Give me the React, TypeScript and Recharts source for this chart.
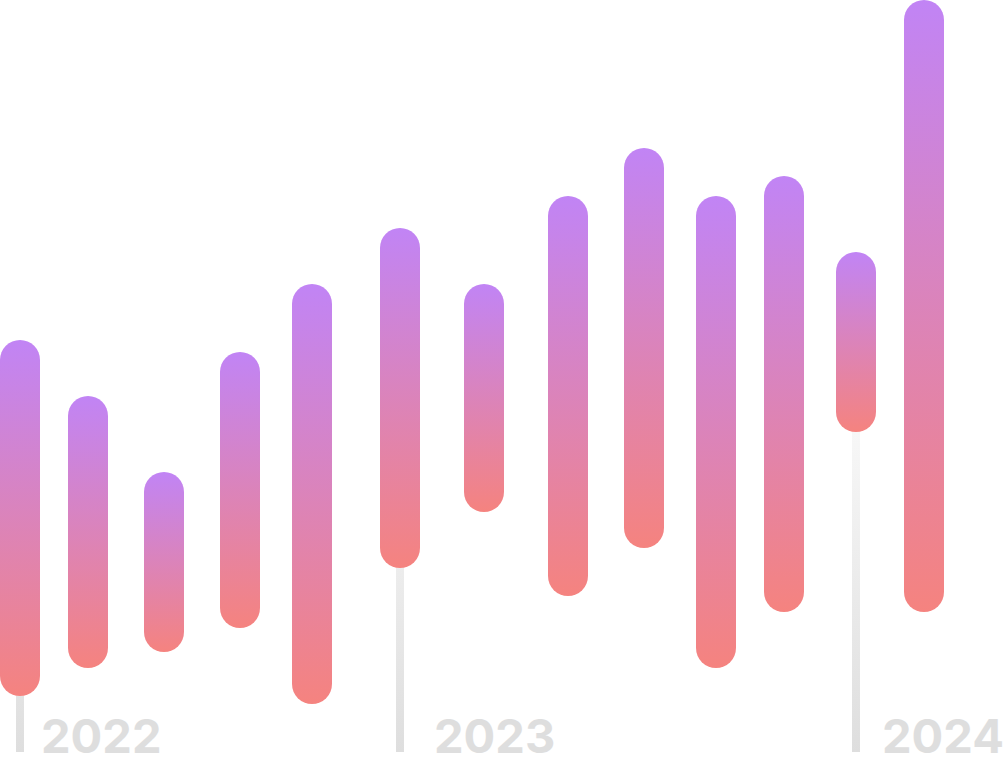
import React from 'react';
import { BarChart, Bar, XAxis, YAxis, ReferenceArea } from 'recharts';

// x position of each bar (week index), and its range [low, high]
const weeks = [5, 22, 41, 60, 78, 100, 121, 142, 161, 179, 196, 214, 231];
const lows = [18, 25, 29, 35, 16, 50, 64, 43, 55, 25, 39, 84, 39];
const highs = [107, 93, 74, 104, 121, 135, 121, 143, 155, 143, 148, 129, 192];

// year markers
const years = ['2022', '2023', '2024'];
const yearWeeks = [5, 100, 214];
const yearBarIndex = [0, 5, 11];
const yearFloor = 4;

const labelGaps = [17, 30, 22];

const data = weeks.map((w, i) => ({ week: w, range: [lows[i], highs[i]] }));

const YearLabel = (props: any) => {
  const { viewBox, text, gap } = props;
  if (!viewBox) return null;
  return (
    <text
      x={viewBox.x + viewBox.width + gap}
      y={viewBox.y + viewBox.height + 1}
      fill="#DEDEDE"
      fontFamily="Inter, 'Liberation Sans', sans-serif"
      fontWeight={700}
      fontSize={47}
      textAnchor="start"
    >
      {text}
    </text>
  );
};

export default function App() {
  return (
    <div style={{ position: 'absolute', left: 0, top: 0, width: 1004, height: 768, background: '#fff' }}>
      <BarChart width={1004} height={768} data={data} margin={{ top: 0, right: 0, bottom: 0, left: 0 }}>
        <defs>
          <linearGradient id="barGrad" x1="0" y1="0" x2="0" y2="1">
            <stop offset="0%" stopColor="#C184F5" />
            <stop offset="100%" stopColor="#F5837F" />
          </linearGradient>
          <linearGradient id="lineGrad" gradientUnits="userSpaceOnUse" x1="0" y1="420" x2="0" y2="752">
            <stop offset="0%" stopColor="#F8F8F8" />
            <stop offset="100%" stopColor="#DEDEDE" />
          </linearGradient>
        </defs>
        <XAxis dataKey="week" type="number" domain={[0, 251]} hide />
        <YAxis type="number" domain={[0, 192]} hide />
        {years.map((y, i) => (
          <ReferenceArea
            key={y}
            x1={yearWeeks[i] - 1}
            x2={yearWeeks[i] + 1}
            y1={yearFloor}
            y2={lows[yearBarIndex[i]]}
            fill="url(#lineGrad)"
            fillOpacity={1}
            stroke="none"
            ifOverflow="visible"
            label={<YearLabel text={y} gap={labelGaps[i]} />}
          />
        ))}
        <Bar dataKey="range" barSize={40} radius={20} fill="url(#barGrad)" isAnimationActive={false} />
      </BarChart>
    </div>
  );
}
